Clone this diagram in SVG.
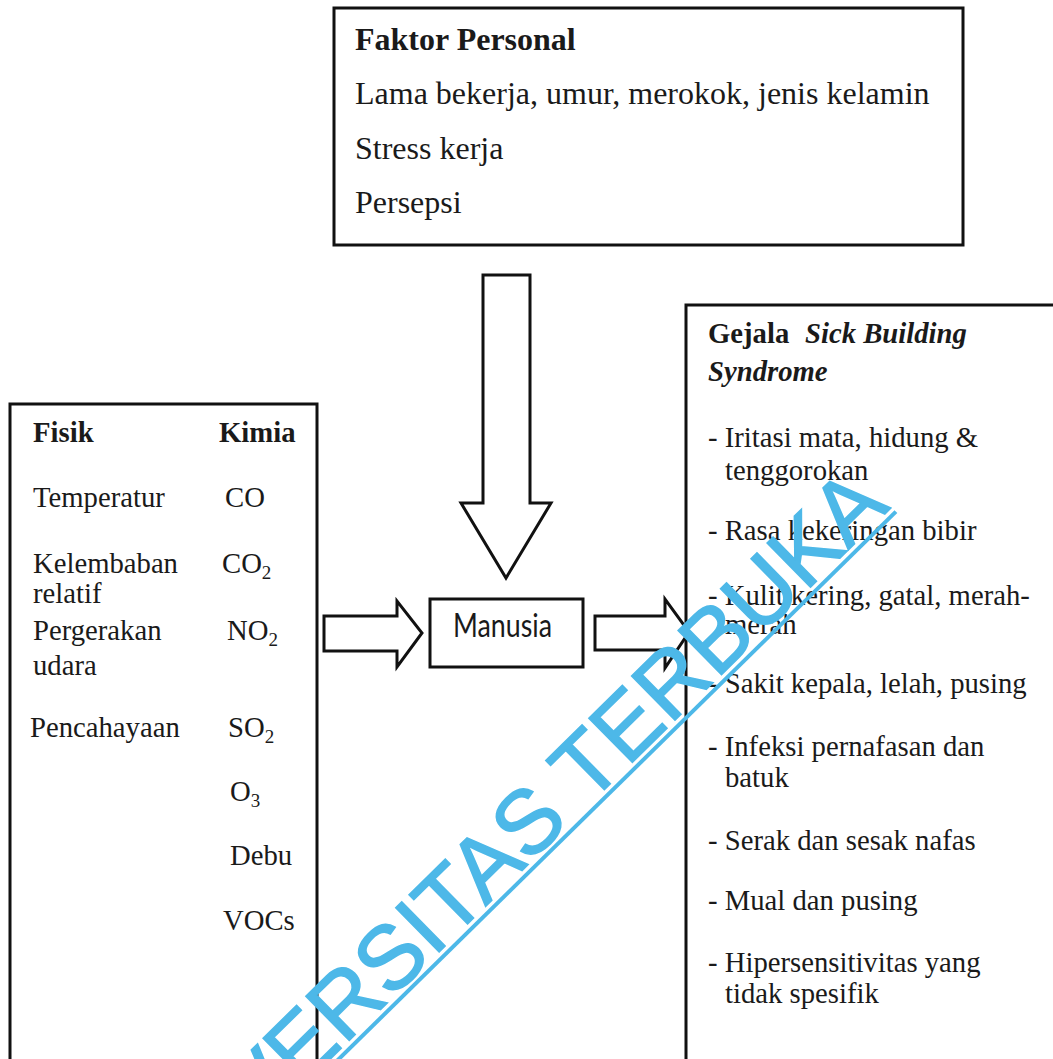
<svg xmlns="http://www.w3.org/2000/svg" width="1053" height="1059" viewBox="0 0 1053 1059">
<style>
.box{fill:#fff;stroke:#111;stroke-width:3}
.arr{fill:#fff;stroke:#111;stroke-width:3;stroke-linejoin:miter}
.t{font-family:"Liberation Serif","Times New Roman",serif;fill:#1a1a1a}
.tp{font-size:32px}
.tl{font-size:28.7px}
.b{font-weight:bold}
.bi{font-weight:bold;font-style:italic}
.sub{font-size:19px}
.wm{font-family:"Liberation Sans",Arial,sans-serif;font-size:90px;fill:#4db8e8;stroke:#4db8e8;stroke-width:1.5}
</style>
<rect width="1053" height="1059" fill="#fff"/>

<g id="faktor-personal">
<rect class="box" x="334" y="8" width="629" height="237"/>
<text class="t tp b" x="355" y="50">Faktor Personal</text>
<text class="t tp" x="355" y="104">Lama bekerja, umur, merokok, jenis kelamin</text>
<text class="t tp" x="355" y="159">Stress kerja</text>
<text class="t tp" x="355" y="213">Persepsi</text>
</g>

<g id="lingkungan">
<rect class="box" x="10" y="404" width="307" height="720"/>
<text class="t tl b" x="33" y="442">Fisik</text>
<text class="t tl b" x="219" y="442">Kimia</text>
<text class="t tl" x="33" y="507">Temperatur</text>
<text class="t tl" x="225" y="507">CO</text>
<text class="t tl" x="33" y="573">Kelembaban</text>
<text class="t tl" x="33" y="603">relatif</text>
<text class="t tl" x="222" y="573">CO<tspan class="sub" dy="6">2</tspan></text>
<text class="t tl" x="33" y="640">Pergerakan</text>
<text class="t tl" x="33" y="675">udara</text>
<text class="t tl" x="227" y="640">NO<tspan class="sub" dy="6">2</tspan></text>
<text class="t tl" x="30" y="737">Pencahayaan</text>
<text class="t tl" x="228" y="737">SO<tspan class="sub" dy="6">2</tspan></text>
<text class="t tl" x="230" y="801">O<tspan class="sub" dy="6">3</tspan></text>
<text class="t tl" x="230" y="865">Debu</text>
<text class="t tl" x="223" y="930">VOCs</text>
</g>

<g id="manusia">
<rect class="box" x="430" y="599" width="153" height="68"/>
<text x="453" y="637" font-family="Lato,'Open Sans',sans-serif" font-size="27" fill="#1a1a1a" textLength="99" lengthAdjust="spacingAndGlyphs" transform="translate(0,-127.4) scale(1,1.2)">Manusia</text>
</g>

<g id="gejala">
<rect class="box" x="686" y="305" width="420" height="820"/>
<text class="t tl" x="708" y="343"><tspan class="b">Gejala</tspan><tspan class="bi" x="805">Sick Building</tspan></text>
<text class="t tl bi" x="708" y="381">Syndrome</text>
<text class="t tl" x="708" y="447">- Iritasi mata, hidung &amp;</text>
<text class="t tl" x="725" y="480">tenggorokan</text>
<text class="t tl" x="708" y="540">- Rasa kekeringan bibir</text>
<text class="t tl" x="708" y="605">- Kulit kering, gatal, merah-</text>
<text class="t tl" x="725" y="634">merah</text>
<text class="t tl" x="708" y="693">- Sakit kepala, lelah, pusing</text>
<text class="t tl" x="708" y="756">- Infeksi pernafasan dan</text>
<text class="t tl" x="725" y="787">batuk</text>
<text class="t tl" x="708" y="850">- Serak dan sesak nafas</text>
<text class="t tl" x="708" y="910">- Mual dan pusing</text>
<text class="t tl" x="708" y="972">- Hipersensitivitas yang</text>
<text class="t tl" x="725" y="1003">tidak spesifik</text>
</g>

<g id="connectors">
<path class="arr" d="M483,275 H530 V503 H551 L506,578 L461,503 H483 Z"/>
<path class="arr" d="M324,616 H397 V601 L422,633 L397,667 V651 H324 Z"/>
<path class="arr" d="M595,616 H665 V599 L689,632 L665,668 V650 H595 Z"/>
</g>

<g id="watermark">
<g transform="translate(891,508) rotate(-44.5)">
<text class="wm" x="0" y="0" text-anchor="end">UNIVERSITAS TERBUKA</text>
<rect x="-1100" y="4" width="1101" height="4" fill="#4db8e8"/>
</g>
</g>
</svg>
